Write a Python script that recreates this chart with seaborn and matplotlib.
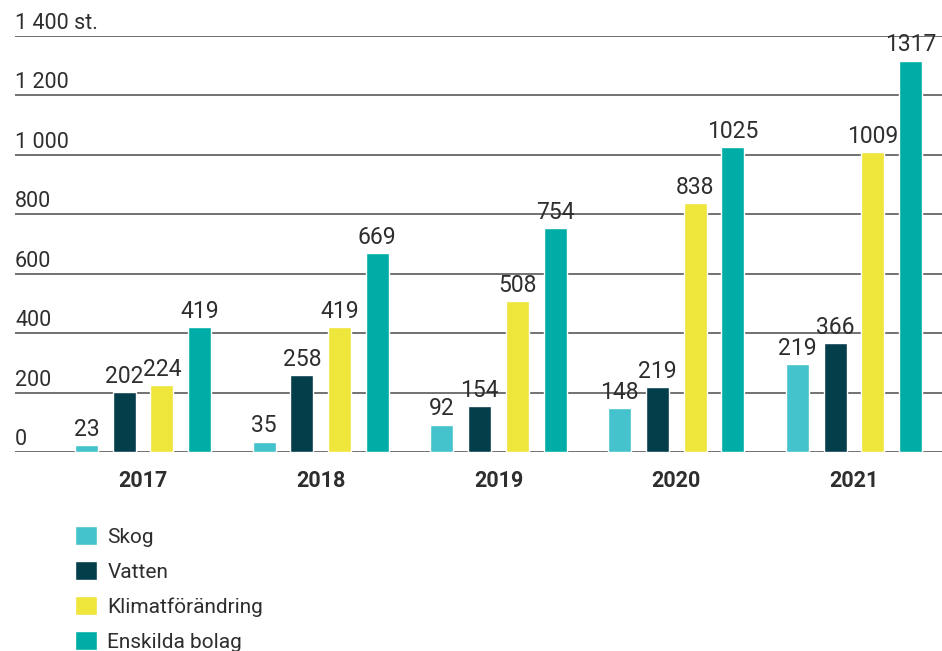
import pandas as pd
import seaborn as sns
import matplotlib.pyplot as plt
import matplotlib.transforms as mtransforms

# data
years = ["2017", "2018", "2019", "2020", "2021"]
categories = ["Skog", "Vatten", "Klimatförändring", "Enskilda bolag"]
skog = [23, 35, 92, 148, 296]
vatten = [202, 258, 154, 219, 366]
klimat = [224, 419, 508, 838, 1009]
enskilda = [419, 669, 754, 1025, 1317]
# printed labels (2021 Skog bar is drawn higher than its label says)
skog_labels = ["23", "35", "92", "148", "219"]
y_ticks = [0, 200, 400, 600, 800, 1000, 1200, 1400]
y_tick_labels = ["0", "200", "400", "600", "800", "1 000", "1 200", "1 400 st."]
colors = ["#45C3CD", "#033E4A", "#EEE63A", "#00ADA6"]

series = [skog, vatten, klimat, enskilda]
rows = []
for cat, vals in zip(categories, series):
    for y, v in zip(years, vals):
        rows.append({"year": y, "category": cat, "value": v})
df = pd.DataFrame(rows)

sns.set_style("white")
plt.rcParams["font.family"] = ["Roboto", "DejaVu Sans"]
text_color = "#2e2e2e"

fig = plt.figure(figsize=(9.42, 6.51), dpi=100)
ax = fig.add_axes([15 / 942, 199 / 651, 927 / 942, 416 / 651])

sns.barplot(data=df, x="year", y="value", hue="category", palette=colors,
            hue_order=categories, width=0.848, gap=0.39, saturation=1, ax=ax)

ax.set_ylim(0, 1400)
ax.set_xlim(-0.72, 4.495)
ax.set_xlabel("")
ax.set_ylabel("")
for s in ax.spines.values():
    s.set_visible(False)

# grid lines behind the bars
ax.set_yticks(y_ticks)
ax.set_yticklabels([])
ax.tick_params(axis="y", length=0)
ax.yaxis.grid(True, color="#4a4a4a", linewidth=1.1)
ax.set_axisbelow(True)

# y labels sit on top of the grid lines, left aligned
trans = mtransforms.blended_transform_factory(ax.transAxes, ax.transData)
for t, lab in zip(y_ticks, y_tick_labels):
    ax.annotate(lab, xy=(0, t), xycoords=trans, xytext=(0, 7),
                textcoords="offset pixels", ha="left", va="baseline",
                fontsize=15.5, color=text_color, annotation_clip=False)

ax.tick_params(axis="x", length=0, pad=13)
for lab in ax.get_xticklabels():
    lab.set_fontweight("bold")
    lab.set_fontsize(15.5)
    lab.set_color(text_color)

label_sets = [skog_labels, [str(v) for v in vatten],
              [str(v) for v in klimat], [str(v) for v in enskilda]]
for cont, labs in zip(ax.containers, label_sets):
    ax.bar_label(cont, labels=labs, padding=3, fontsize=16.5,
                 color=text_color, clip_on=False)

handles, labels = ax.get_legend_handles_labels()
ax.get_legend().remove()
fig.legend(handles, labels, loc="upper left",
           bbox_to_anchor=(75 / 942, 1 - 526 / 651), frameon=False,
           fontsize=15, handlelength=1.05, handleheight=1.05,
           handletextpad=0.5, labelspacing=0.68, borderpad=0,
           borderaxespad=0, labelcolor=text_color)

fig.savefig("out.png", dpi=100, facecolor="white")
